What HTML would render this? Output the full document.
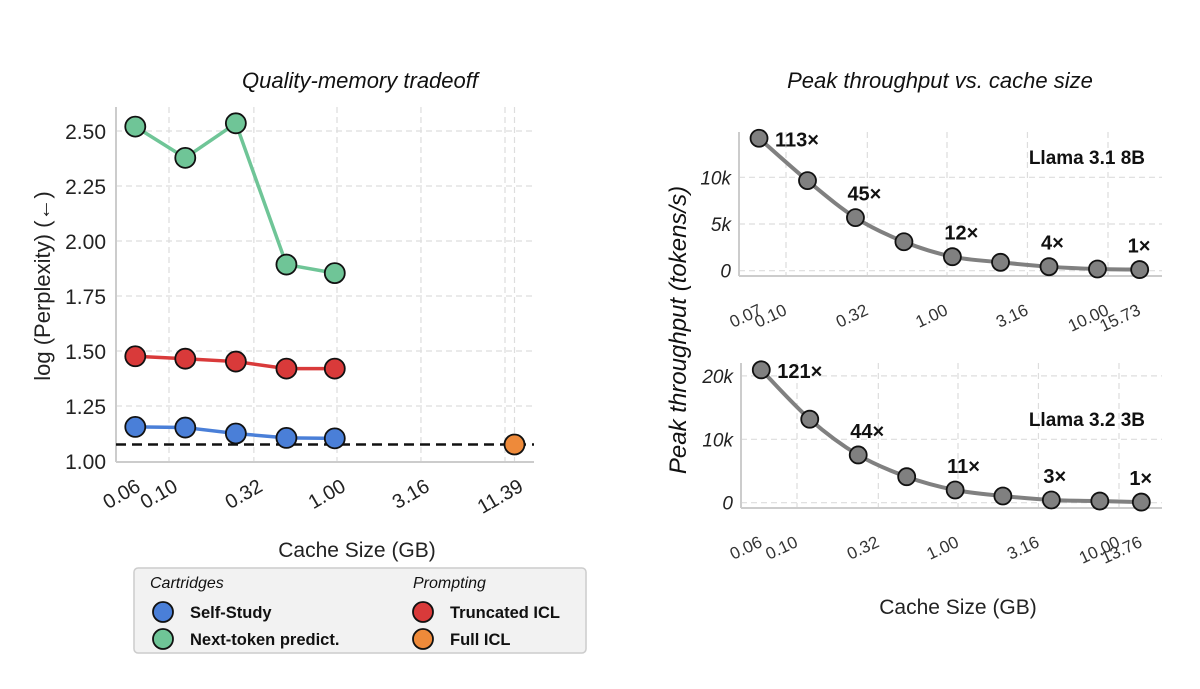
<!DOCTYPE html>
<html><head><meta charset="utf-8"><style>
body{margin:0;background:#fff;}
svg{display:block;font-family:"Liberation Sans",sans-serif;}
</style></head><body>
<svg id="chart" width="1200" height="689" viewBox="0 0 1200 689" xmlns="http://www.w3.org/2000/svg"></svg>
<script>
// ---- Left chart data ----
const leftSizes = [0.063, 0.125, 0.25, 0.5, 0.97];
const selfStudy = [1.155, 1.152, 1.125, 1.105, 1.103];
const nextToken = [2.52, 2.378, 2.535, 1.893, 1.854];
const truncICL = [1.476, 1.465, 1.452, 1.42, 1.42];
const fullICLSize = [11.39];
const fullICL = [1.075];
const leftYTicks = [1.00, 1.25, 1.50, 1.75, 2.00, 2.25, 2.50];
const leftXTicks = [0.06, 0.10, 0.32, 1.00, 3.16, 11.39];
const leftXGrid = [0.10, 0.32, 1.00, 3.16, 10.0, 11.39];
// ---- Right top data ----
const topSizes = [0.068, 0.136, 0.27, 0.54, 1.08, 2.15, 4.3, 8.6, 15.73];
const topThroughput = [14180, 9640, 5680, 3100, 1500, 900, 430, 180, 120];
const topLabels = ["113×", "", "45×", "", "12×", "", "4×", "", "1×"];
const topXTicks = [0.07, 0.10, 0.32, 1.00, 3.16, 10.00, 15.73];
const topYTicks = [0, 5000, 10000];
// ---- Right bottom data ----
const botSizes = [0.06, 0.12, 0.24, 0.48, 0.96, 1.9, 3.8, 7.6, 13.76];
const botThroughput = [20960, 13170, 7530, 4100, 2000, 1060, 420, 260, 100];
const botLabels = ["121×", "", "44×", "", "11×", "", "3×", "", "1×"];
const botXTicks = [0.06, 0.10, 0.32, 1.00, 3.16, 10.00, 13.76];
const botYTicks = [0, 10000, 20000];

const svg = document.getElementById('chart');
const NS = 'http://www.w3.org/2000/svg';
function mk(tag, attrs, text, parent) {
  const e = document.createElementNS(NS, tag);
  for (const k in attrs) e.setAttribute(k, attrs[k]);
  if (text !== undefined && text !== null) e.textContent = text;
  (parent || svg).appendChild(e);
  return e;
}
function logScale(v0, p0, v1, p1) {
  return v => p0 + (Math.log10(v) - Math.log10(v0)) / (Math.log10(v1) - Math.log10(v0)) * (p1 - p0);
}
function linScale(v0, p0, v1, p1) { return v => p0 + (v - v0) / (v1 - v0) * (p1 - p0); }

// ===== Left chart =====
const L = {x0: 116, x1: 534, y0: 107, y1: 462};
const lx = logScale(0.1, 169, 1.0, 337);
const ly = linScale(1.0, 461, 2.5, 131);
const gl = mk('g', {});


leftYTicks.forEach(t => {
  const y = ly(t);
  if (t > 1.0) {
    const g = mk('line', {x1: L.x0, x2: L.x1, y1: y, y2: y, stroke: '#ddd', 'stroke-dasharray': '6,4', 'stroke-width': 1.2}, null, gl);
    
    
  }
  const tl = mk('text', {x: 106, y: y + 8, 'text-anchor': 'end', 'font-size': 21, fill: '#222'}, t.toFixed(2), gl);
  
  
});
leftXGrid.forEach(t => {
  const x = lx(t);
  const g = mk('line', {x1: x, x2: x, y1: L.y0, y2: L.y1, stroke: '#ddd', 'stroke-dasharray': '6,4', 'stroke-width': 1.2}, null, gl);
  
  
});
leftXTicks.forEach(t => {
  const x = lx(t);
  const tl = mk('text', {x: x + 10, y: 490, 'text-anchor': 'end', 'font-size': 20, fill: '#222', transform: `rotate(-30 ${x + 10} 490)`}, t.toFixed(2), gl);
  
  
});
let ax = mk('line', {x1: L.x0, x2: L.x0, y1: L.y0, y2: L.y1, stroke: '#ccc', 'stroke-width': 2}, null, gl);
 
ax = mk('line', {x1: L.x0, x2: L.x1, y1: L.y1, y2: L.y1, stroke: '#ccc', 'stroke-width': 2}, null, gl);
 
const ref = mk('line', {x1: L.x0, x2: L.x1, y1: ly(fullICL[0]), y2: ly(fullICL[0]), stroke: '#111', 'stroke-width': 2.5, 'stroke-dasharray': '10,6'}, null, gl);


function series(sizes, vals, color, name, xs, ys, parent, r, lw) {
  const pts = sizes.map((s, i) => [xs(s), ys(vals[i])]);
  if (pts.length > 1) {
    const p = mk('polyline', {points: pts.map(p => p.join(',')).join(' '), fill: 'none', stroke: color, 'stroke-width': lw, 'stroke-linejoin': 'round'}, null, parent);
    
    
  }
  pts.forEach(p => {
    const c = mk('circle', {cx: p[0], cy: p[1], r: r, fill: color, stroke: '#111', 'stroke-width': 1.8}, null, parent);
    
    
  });
  return pts;
}
series(leftSizes, nextToken, '#6fc597', 'next-token', lx, ly, gl, 10, 3.5);
series(leftSizes, truncICL, '#d93a3a', 'truncated-icl', lx, ly, gl, 10, 3.5);
series(leftSizes, selfStudy, '#4a7fd8', 'self-study', lx, ly, gl, 10, 3.5);
series(fullICLSize, fullICL, '#ee8a3a', 'full-icl', lx, ly, gl, 10, 3.5);
let t = mk('text', {x: 360, y: 88, 'text-anchor': 'middle', 'font-size': 22, 'font-style': 'italic', fill: '#111'}, 'Quality-memory tradeoff');
 
t = mk('text', {x: 0, y: 0, 'text-anchor': 'middle', 'font-size': 22, fill: '#222', transform: 'translate(50 286) rotate(-90)'}, 'log (Perplexity) (\u2190)');
 
t = mk('text', {x: 357, y: 557, 'text-anchor': 'middle', 'font-size': 21, fill: '#222'}, 'Cache Size (GB)');
 

// Legend
const lg = mk('g', {});


mk('rect', {x: 134, y: 568, width: 452, height: 85, rx: 4, fill: '#f2f2f2', stroke: '#ccc', 'stroke-width': 1.5}, null, lg);
t = mk('text', {x: 150, y: 588, 'font-size': 16, 'font-style': 'italic', fill: '#111'}, 'Cartridges', lg);
 
t = mk('text', {x: 413, y: 588, 'font-size': 16, 'font-style': 'italic', fill: '#111'}, 'Prompting', lg);
 
[[163, 612, '#4a7fd8', 'Self-Study'], [163, 639, '#6fc597', 'Next-token predict.'], [423, 612, '#d93a3a', 'Truncated ICL'], [423, 639, '#ee8a3a', 'Full ICL']].forEach(e => {
  const g = mk('g', {}, null, lg);
  
  
  mk('circle', {cx: e[0], cy: e[1], r: 10, fill: e[2], stroke: '#111', 'stroke-width': 1.8}, null, g);
  mk('text', {x: e[0] + 27, y: e[1] + 6, 'font-size': 16.5, 'font-weight': 'bold', fill: '#111'}, e[3], g);
});

// ===== Right charts =====
t = mk('text', {x: 940, y: 88, 'text-anchor': 'middle', 'font-size': 22, 'font-style': 'italic', fill: '#111'}, 'Peak throughput vs. cache size');
 
t = mk('text', {x: 0, y: 0, 'text-anchor': 'middle', 'font-size': 24, 'font-style': 'italic', fill: '#111', transform: 'translate(686 330) rotate(-90)'}, 'Peak throughput (tokens/s)');
 
t = mk('text', {x: 958, y: 614, 'text-anchor': 'middle', 'font-size': 21, fill: '#222'}, 'Cache Size (GB)');
 

function panel(cfg) {
  const g = mk('g', {});
  
  
  const xs = logScale(0.1, cfg.x01, 1.0, cfg.x1g);
  const ys = linScale(0, cfg.yZero, cfg.yRefVal, cfg.yRef);
  cfg.xTicks.forEach(v => {
    const x = xs(v);
    if (v !== cfg.xTicks[0] && v !== cfg.xTicks[cfg.xTicks.length - 1]) {
      const gl2 = mk('line', {x1: x, x2: x, y1: cfg.top, y2: cfg.bottom, stroke: '#ddd', 'stroke-dasharray': '6,4', 'stroke-width': 1.2}, null, g);
      
      
    }
    const tl = mk('text', {x: x + 2, y: cfg.bottom + 38, 'text-anchor': 'end', 'font-size': 17, fill: '#333', transform: `rotate(-25 ${x + 2} ${cfg.bottom + 38})`}, v.toFixed(2), g);
    
    
  });
  cfg.yTicks.forEach(v => {
    const y = ys(v);
    const gl2 = mk('line', {x1: cfg.left, x2: cfg.right, y1: y, y2: y, stroke: '#ddd', 'stroke-dasharray': '6,4', 'stroke-width': 1.2}, null, g);
    
    
    const tl = mk('text', {x: cfg.left - 8, y: y + 7, 'text-anchor': 'end', 'font-size': 19, 'font-style': 'italic', fill: '#222'}, v === 0 ? '0' : (v / 1000) + 'k', g);
    
    
  });
  let a = mk('line', {x1: cfg.left, x2: cfg.left, y1: cfg.top, y2: cfg.bottom, stroke: '#ccc', 'stroke-width': 2}, null, g);
   
  a = mk('line', {x1: cfg.left, x2: cfg.right, y1: cfg.bottom, y2: cfg.bottom, stroke: '#ccc', 'stroke-width': 2}, null, g);
   
  const pts = cfg.sizes.map((s, i) => [xs(s), ys(cfg.vals[i])]);
  let d = 'M' + pts[0].join(',');
  for (let i = 0; i < pts.length - 1; i++) {
    const p0 = pts[Math.max(0, i - 1)], p1 = pts[i], p2 = pts[i + 1], p3 = pts[Math.min(pts.length - 1, i + 2)];
    const c1 = [p1[0] + (p2[0] - p0[0]) / 6, p1[1] + (p2[1] - p0[1]) / 6];
    const c2 = [p2[0] - (p3[0] - p1[0]) / 6, p2[1] - (p3[1] - p1[1]) / 6];
    d += ` C${c1.join(',')} ${c2.join(',')} ${p2.join(',')}`;
  }
  const ln = mk('path', {d: d, fill: 'none', stroke: '#808080', 'stroke-width': 4}, null, g);
  
  
  pts.forEach((p, i) => {
    const c = mk('circle', {cx: p[0], cy: p[1], r: 8.5, fill: '#808080', stroke: '#111', 'stroke-width': 1.8}, null, g);
    
    
    if (cfg.labels[i]) {
      const lb = mk('text', {x: i === 0 ? p[0] + 16 : (i === pts.length - 1 ? p[0] - 12 : p[0] - 8), y: i === 0 ? p[1] + 8 : p[1] - 17, 'font-size': 20, 'font-weight': 'bold', fill: '#111'}, cfg.labels[i], g);
      
      
    }
  });
  const mt = mk('text', {x: 1145, y: cfg.modelY, 'text-anchor': 'end', 'font-size': 19, 'font-weight': 'bold', fill: '#111'}, cfg.model, g);
  
  
}
panel({name: 'llama-3-1-8b-panel', sizes: topSizes, vals: topThroughput, labels: topLabels, xTicks: topXTicks, yTicks: topYTicks,
  x01: 786, x1g: 947, yZero: 270.7, yRefVal: 10000, yRef: 177.3, left: 739, right: 1162, top: 132, bottom: 276, model: 'Llama 3.1 8B', modelY: 164});
panel({name: 'llama-3-2-3b-panel', sizes: botSizes, vals: botThroughput, labels: botLabels, xTicks: botXTicks, yTicks: botYTicks,
  x01: 797, x1g: 958, yZero: 502.7, yRefVal: 10000, yRef: 439.3, left: 741, right: 1162, top: 363, bottom: 508, model: 'Llama 3.2 3B', modelY: 426});
</script>
</body></html>
